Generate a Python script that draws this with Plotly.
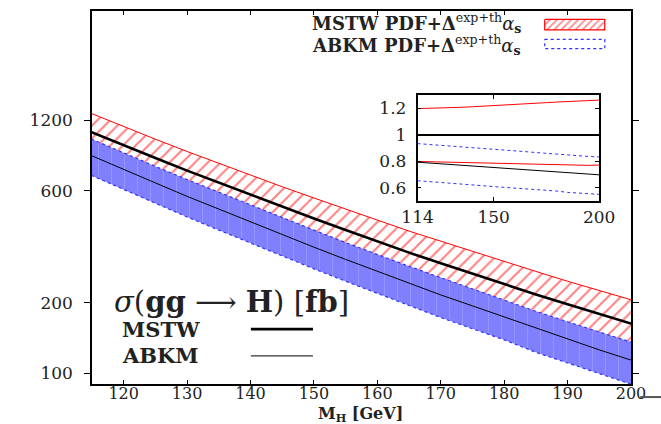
import plotly.graph_objects as go

# ---------------- data ----------------
masses = [114, 120, 125, 130, 135, 140, 145, 150, 155, 160, 165, 170, 175, 180, 185, 190, 195, 200]
mstw =    [1092, 936, 827, 731, 649, 576, 512, 457, 408, 365, 327, 295, 266, 241, 217, 197, 179, 163]
mstw_hi = [1310, 1124, 995, 882, 785, 699, 624, 559, 501, 450, 404, 366, 331, 301, 272, 247, 225, 206]
mstw_lo = [874, 747, 658, 580, 515, 456, 404, 360, 321, 286, 256, 230, 207, 187, 168, 152, 138, 126]
abkm =    [868, 738, 648, 568, 501, 441, 390, 345, 306, 272, 242, 216, 194, 174, 156, 140, 126, 114]
abkm_hi = [1021, 869, 762, 670, 591, 521, 460, 408, 361, 321, 286, 256, 229, 206, 184, 166, 150, 136]
abkm_lo = [715, 607, 531, 464, 408, 359, 316, 279, 247, 219, 194, 173, 155, 139, 123, 111, 100, 90]

x_ticks = [120, 130, 140, 150, 160, 170, 180, 190, 200]
y_ticks = [100, 200, 600, 1200]
inset_x_ticks = [114, 150, 200]
inset_y_ticks = [0.6, 0.8, 1.0, 1.2]
inset_y_labels = ["0.6", "0.8", "1", "1.2"]

def ratio(a):
    return [v / m for v, m in zip(a, mstw)]

FONT = "DejaVu Serif"
TXT = "#222222"
RED = "#ff0000"
BLUE = "#3030ff"
TICKSIZE = 17

fig = go.Figure()

# ---- main plot ----
fig.add_trace(go.Scatter(x=masses, y=mstw_lo, mode="lines", line=dict(color=RED, width=1),
                         showlegend=False, hoverinfo="skip"))
fig.add_trace(go.Scatter(x=masses, y=mstw_hi, mode="lines", line=dict(color=RED, width=1),
                         fill="tonexty", fillcolor="rgba(0,0,0,0)",
                         fillpattern=dict(shape="/", fgcolor=RED, bgcolor="white",
                                          size=9, solidity=0.22),
                         showlegend=False, hoverinfo="skip"))
fig.add_trace(go.Scatter(x=masses, y=abkm_lo, mode="lines", line=dict(color=BLUE, width=1.2, dash="dot"),
                         showlegend=False, hoverinfo="skip"))
fig.add_trace(go.Scatter(x=masses, y=abkm_hi, mode="lines", line=dict(color=BLUE, width=1.2, dash="dot"),
                         fill="tonexty", fillcolor="#8080ff",
                         fillpattern=dict(shape="|", fgcolor="#9898ff", bgcolor="#8080ff",
                                          size=13, solidity=0.07, fillmode="replace"),
                         showlegend=False, hoverinfo="skip"))
fig.add_trace(go.Scatter(x=masses, y=abkm, mode="lines", line=dict(color="black", width=1),
                         showlegend=False, hoverinfo="skip"))
fig.add_trace(go.Scatter(x=masses, y=mstw, mode="lines", line=dict(color="black", width=2.6),
                         showlegend=False, hoverinfo="skip"))

# ---- decorative key (overlay axes in pixel-like units) ----
PX0, PX1, PY0, PY1 = 92.3, 630.7, 384.3, 8.5
fig.add_trace(go.Scatter(x=[544.5, 604.5, 604.5, 544.5, 544.5], y=[17, 17, 27.5, 27.5, 17],
                         mode="lines", xaxis="x3", yaxis="y3", line=dict(color=RED, width=1.2),
                         fill="toself", fillcolor="rgba(0,0,0,0)",
                         fillpattern=dict(shape="/", fgcolor=RED, bgcolor="white", size=5, solidity=0.3),
                         showlegend=False, hoverinfo="skip"))
fig.add_trace(go.Scatter(x=[544.5, 604.5, 604.5, 544.5, 544.5], y=[37, 37, 46.5, 46.5, 37],
                         mode="lines", xaxis="x3", yaxis="y3",
                         line=dict(color=BLUE, width=1.2, dash="dot"),
                         showlegend=False, hoverinfo="skip"))
fig.add_trace(go.Scatter(x=[251, 313], y=[329, 329], mode="lines", xaxis="x3", yaxis="y3",
                         line=dict(color="black", width=2.6), showlegend=False, hoverinfo="skip"))
fig.add_trace(go.Scatter(x=[251, 313], y=[356, 356], mode="lines", xaxis="x3", yaxis="y3",
                         line=dict(color="black", width=1), showlegend=False, hoverinfo="skip"))

# ---- inset (ratios to MSTW central) ----
for ys, col, w, dash in [
    (ratio(mstw_hi), RED, 1, "solid"),
    (ratio(mstw_lo), RED, 1, "solid"),
    (ratio(mstw), "black", 2, "solid"),
    (ratio(abkm), "black", 1, "solid"),
    (ratio(abkm_hi), BLUE, 1, "dot"),
    (ratio(abkm_lo), BLUE, 1, "dot"),
]:
    fig.add_trace(go.Scatter(x=masses, y=ys, mode="lines", xaxis="x2", yaxis="y2",
                             line=dict(color=col, width=w, dash=dash),
                             showlegend=False, hoverinfo="skip"))

ann = []
key_font = dict(family=FONT, size=18, color=TXT)
ann.append(dict(x=523, y=21, xref="x3", yref="y3", xanchor="right", yanchor="middle", showarrow=False,
                text="<b>MSTW PDF+Δ</b><sup>exp+th</sup><i>α</i><sub><b>s</b></sub>", font=key_font))
ann.append(dict(x=523, y=43, xref="x3", yref="y3", xanchor="right", yanchor="middle", showarrow=False,
                text="<b>ABKM PDF+Δ</b><sup>exp+th</sup><i>α</i><sub><b>s</b></sub>", font=key_font))
ann.append(dict(x=112, y=302, xref="x3", yref="y3", xanchor="left", yanchor="middle", showarrow=False,
                text="<i>σ</i>(<b>gg</b> ⟶ <b>H</b>) [<b>fb</b>]", font=dict(family=FONT, size=29, color=TXT)))
ann.append(dict(x=120, y=329, xref="x3", yref="y3", xanchor="left", yanchor="middle", showarrow=False,
                text="<b>MSTW</b>", font=dict(family=FONT, size=21, color=TXT)))
ann.append(dict(x=120, y=356, xref="x3", yref="y3", xanchor="left", yanchor="middle", showarrow=False,
                text="<b>ABKM</b>", font=dict(family=FONT, size=21, color=TXT)))
ann.append(dict(x=(361 - PX0) / (PX1 - PX0), y=(PY0 - 415) / (PY0 - PY1), xref="paper", yref="paper",
                xanchor="center", yanchor="middle", showarrow=False,
                text="<b>M<sub>H</sub> [GeV]</b>", font=dict(family=FONT, size=16, color=TXT)))

axis_common = dict(showline=True, linecolor="black", linewidth=1.5, mirror="ticks", showgrid=False,
                   zeroline=False, tickcolor="black", tickwidth=1)
tf = dict(family=FONT, size=TICKSIZE, color=TXT)

fig.update_layout(
    width=661, height=424,
    margin=dict(l=92, r=30, t=9, b=40, pad=0),
    paper_bgcolor="white", plot_bgcolor="white",
    font=dict(family=FONT, color=TXT, size=16),
    annotations=ann,
    xaxis=dict(range=[115, 200], tickvals=x_ticks, ticks="inside", ticklen=4, ticklabelstandoff=-6,
               tickfont=dict(family=FONT, size=16, color=TXT), **axis_common),
    yaxis=dict(type="log", range=[1.955, 3.544], tickvals=y_ticks, ticktext=[str(v) for v in y_ticks],
               ticks="outside", ticklen=6, ticklabelstandoff=8, tickfont=tf, **axis_common),
    xaxis2=dict(domain=[0.604, 0.941], anchor="y2", range=[114, 200], tickvals=inset_x_ticks,
                ticks="inside", ticklen=4, tickfont=tf, **axis_common),
    yaxis2=dict(domain=[0.490, 0.774], anchor="x2", range=[0.5, 1.3], tickvals=inset_y_ticks,
                ticktext=inset_y_labels, ticks="inside", ticklen=4, ticklabelstandoff=6,
                tickfont=tf, **axis_common),
    xaxis3=dict(overlaying="x", anchor="y3", range=[PX0, PX1], visible=False, fixedrange=True),
    yaxis3=dict(overlaying="y", anchor="x3", range=[PY0, PY1], visible=False, fixedrange=True),
    shapes=[
        dict(type="line", xref="paper", yref="paper", x0=1.017, x1=1.06, y0=-0.035, y1=-0.035,
             line=dict(color="#555555", width=2)),
    ],
)

fig.write_html("out.html")
